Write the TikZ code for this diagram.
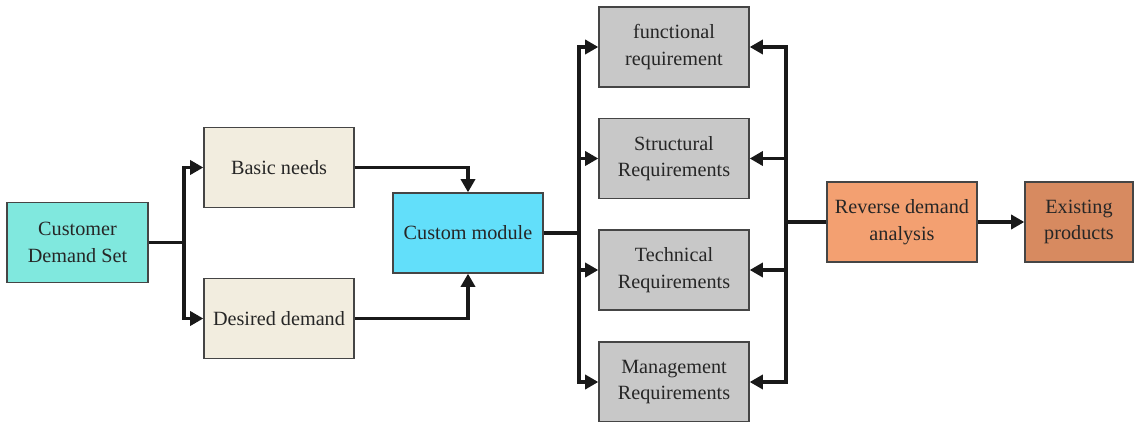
\documentclass[tikz,border=0pt]{standalone}
\usepackage{fontspec}
\setmainfont{Liberation Serif}
\usetikzlibrary{arrows.meta}

\definecolor{tealbox}{HTML}{80E8DE}
\definecolor{creambox}{HTML}{F2EDDF}
\definecolor{cyanbox}{HTML}{62DFFA}
\definecolor{greybox}{HTML}{C8C8C8}
\definecolor{orangebox}{HTML}{F3A071}
\definecolor{brownbox}{HTML}{D78A60}
\definecolor{edge}{HTML}{454545}

\tikzset{
  box/.style={draw=edge, line width=0.8pt, minimum width=3cm, minimum height=1.6cm,
    align=center, text=black!85, font=\fontsize{11.5pt}{15pt}\selectfont, inner sep=2pt},
  link/.style={line width=1.9pt, black!90},
  arr/.style={link, -{Triangle[length=7.5pt,width=8pt]}}
}

\begin{document}
\begin{tikzpicture}[x=0.02cm,y=-0.02cm]
\useasboundingbox (0,0) rectangle (1135,422);

\path (77.5,242.5) node[box,fill=tealbox,minimum width=2.82cm](CDS){Customer\\Demand Set}
      (279,167.5) node[box,fill=creambox](Basic){Basic needs}
      (279,318.5) node[box,fill=creambox](Desired){Desired demand}
      (468,233) node[box,fill=cyanbox](Custom){Custom module}
      (674,47) node[box,fill=greybox](Func){functional\\requirement}
      (674,158.5) node[box,fill=greybox](Struct){Structural\\Requirements}
      (674,270) node[box,fill=greybox](Tech){Technical\\Requirements}
      (674,382) node[box,fill=greybox](Manage){Management\\Requirements}
      (902,222) node[box,fill=orangebox](Reverse){Reverse demand\\analysis}
      (1079,222) node[box,fill=brownbox,minimum width=2.16cm](Exist){Existing\\products};

% branch points
\coordinate (SplitA) at (184,242.5);
\coordinate (SplitB) at (579,233);
\coordinate (Bus) at (786,222);

\draw[link] (CDS) -- (SplitA);
\draw[arr] (SplitA) |- (Basic);
\draw[arr] (SplitA) |- (Desired);
\draw[arr] (Basic) -| (Custom);
\draw[arr] (Desired) -| (Custom);

\draw[link] (Custom) -- (SplitB);
\draw[arr] (SplitB) |- (Func);
\draw[arr] (SplitB) |- (Struct);
\draw[arr] (SplitB) |- (Tech);
\draw[arr] (SplitB) |- (Manage);

\draw[link] (Reverse) -- (Bus);
\draw[arr] (Bus) |- (Func);
\draw[arr] (Bus) |- (Struct);
\draw[arr] (Bus) |- (Tech);
\draw[arr] (Bus) |- (Manage);
\draw[arr] (Reverse) -- (Exist);
\end{tikzpicture}
\end{document}
